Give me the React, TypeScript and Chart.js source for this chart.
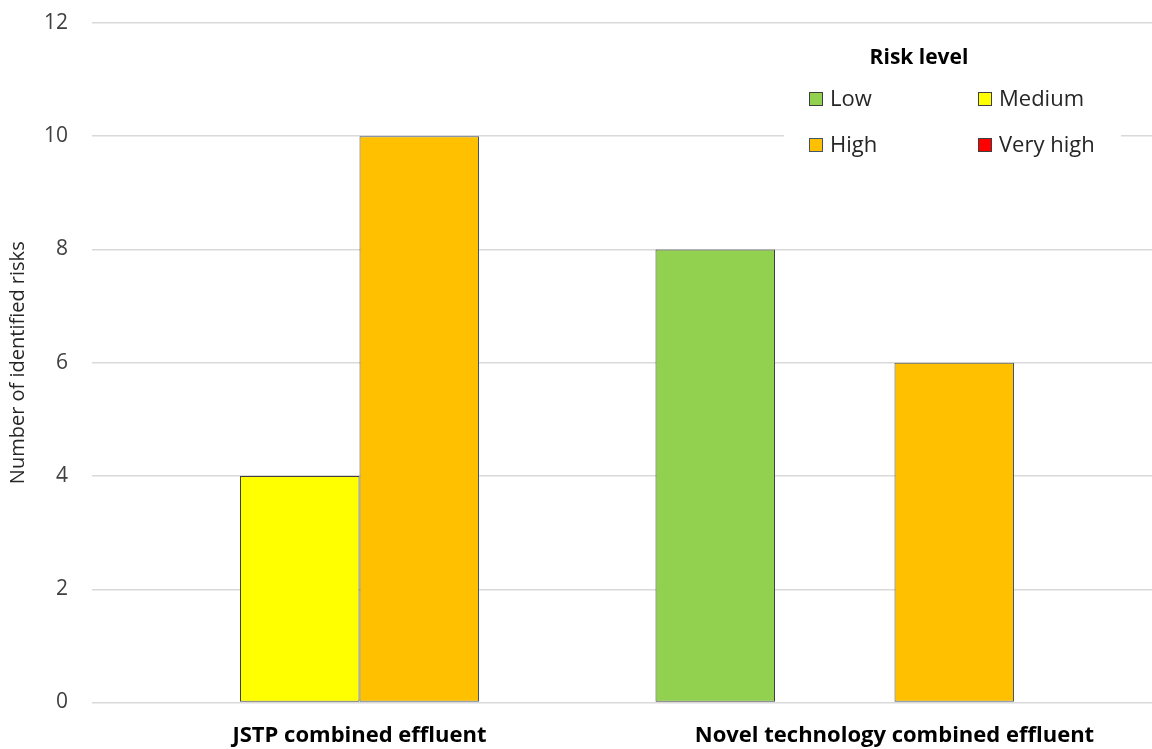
import React, { useEffect, useRef } from "react";
import { Chart, registerables } from "chart.js";

Chart.register(...registerables);

// Category labels and counts of identified risks per risk level
const categories = ["JSTP combined effluent", "Novel technology combined effluent"];
const riskLevels = ["Low", "Medium", "High", "Very high"];
const lowCounts = [0, 8];
const mediumCounts = [4, 0];
const highCounts = [10, 6];
const veryHighCounts = [0, 0];
const yTicks = [0, 2, 4, 6, 8, 10, 12];

const fillColors = ["#92D050", "#FFFF00", "#FFC000", "#FF0000"];
const edgeColors = ["#3F3F3F", "#3F3F3F", "#44546A", "#3F3F3F"];

const FONT = "'Open Sans', 'Noto Sans', sans-serif";

// Two-column legend with a title, drawn on a white panel inside the plot
const riskLegend = {
  id: "riskLegend",
  afterDraw(chart: any) {
    const ctx = chart.ctx;
    const o = chart.options.plugins.riskLegend;
    ctx.save();
    ctx.fillStyle = "#FFFFFF";
    ctx.fillRect(o.boxLeft, o.boxTop, o.boxWidth, o.boxHeight);
    ctx.fillStyle = "#000000";
    ctx.font = `bold 21px ${FONT}`;
    ctx.textAlign = "center";
    ctx.textBaseline = "middle";
    ctx.fillText(o.title, o.titleX, o.titleY);
    ctx.font = `22px ${FONT}`;
    ctx.textAlign = "left";
    chart.data.datasets.forEach((ds: any, i: number) => {
      const col = i % 2;
      const row = Math.floor(i / 2);
      const x = o.colX[col];
      const y = o.rowY[row];
      ctx.fillStyle = ds.backgroundColor;
      ctx.fillRect(x, y - 7, 14, 14);
      ctx.strokeStyle = ds.borderColor;
      ctx.lineWidth = 1;
      ctx.strokeRect(x + 0.5, y - 6.5, 13, 13);
      ctx.fillStyle = "#262626";
      ctx.fillText(ds.label, x + 21, y + 1);
    });
    ctx.restore();
  },
};

export default function App() {
  const canvasRef = useRef<HTMLCanvasElement | null>(null);

  useEffect(() => {
    const series = [lowCounts, mediumCounts, highCounts, veryHighCounts];
    const chart = new Chart(canvasRef.current as HTMLCanvasElement, {
      type: "bar",
      data: {
        labels: categories,
        datasets: riskLevels.map((label, i) => ({
          label,
          data: series[i],
          backgroundColor: fillColors[i],
          borderColor: edgeColors[i],
          borderWidth: 1,
          borderSkipped: false,
          categoryPercentage: 0.8935,
          barPercentage: 1,
        })),
      },
      options: {
        responsive: false,
        animation: false,
        devicePixelRatio: 1,
        layout: { padding: { top: 23, right: 10, left: 0, bottom: 0 } },
        plugins: {
          legend: { display: false },
          tooltip: { enabled: false },
          riskLegend: {
            title: "Risk level",
            boxLeft: 784,
            boxTop: 32,
            boxWidth: 337,
            boxHeight: 138,
            titleX: 919,
            titleY: 58,
            colX: [809, 978],
            rowY: [99, 145],
          },
        } as any,
        scales: {
          x: {
            grid: { display: false, drawTicks: false },
            border: { display: false },
            ticks: {
              color: "#000000",
              font: { family: FONT, size: 22, weight: "bold" },
              padding: 20,
              maxRotation: 0,
            },
            afterFit(scale: any) {
              scale.height = 46.5;
            },
          },
          y: {
            min: 0,
            max: 12,
            afterBuildTicks(scale: any) {
              scale.ticks = yTicks.map((v) => ({ value: v }));
            },
            grid: { color: "#D9D9D9", lineWidth: 1.5, drawTicks: false },
            border: { display: false },
            ticks: {
              color: "#404040",
              font: { family: FONT, size: 21 },
              padding: 24,
            },
            title: {
              display: true,
              text: "Number of identified risks",
              color: "#262626",
              font: { family: FONT, size: 20 },
              padding: { top: 6, bottom: 0 },
            },
            afterFit(scale: any) {
              scale.width = 92;
              scale.paddingTop = 0;
              scale.paddingBottom = 0;
            },
          },
        },
      },
      plugins: [riskLegend],
    });
    return () => chart.destroy();
  }, []);

  return (
    <div
      style={{
        position: "fixed",
        left: 0,
        top: 0,
        width: 1152,
        height: 749,
        overflow: "hidden",
        background: "#FFFFFF",
      }}
    >
      <canvas ref={canvasRef} width={1172} height={749} style={{ display: "block" }} />
    </div>
  );
}
